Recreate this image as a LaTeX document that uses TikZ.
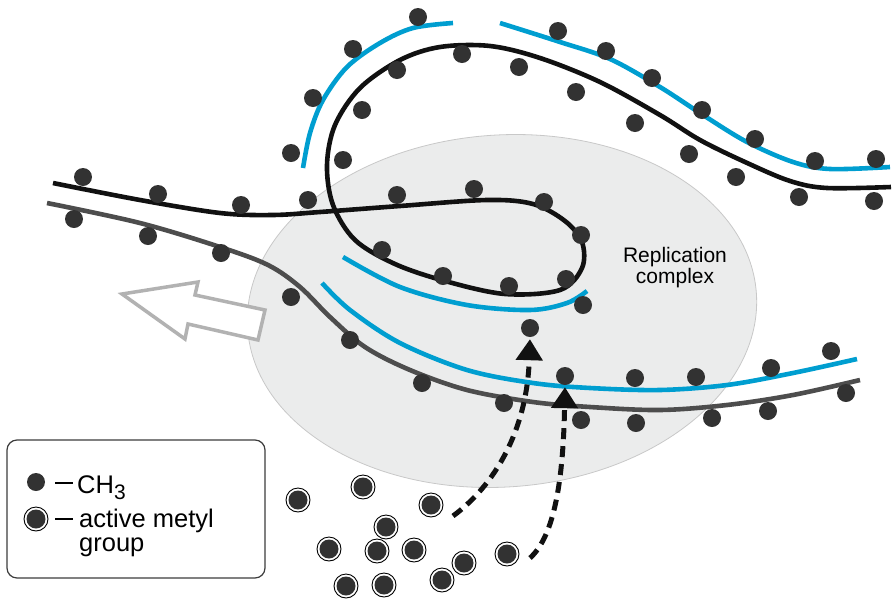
\documentclass[tikz,border=0pt]{standalone}
\usepackage{fontspec}
\setmainfont{Liberation Sans}
\usetikzlibrary{arrows.meta}
\definecolor{strandblue}{RGB}{0,158,208}
\definecolor{strandblack}{RGB}{17,17,17}
\definecolor{strandgray}{RGB}{77,77,77}
\definecolor{dotgray}{RGB}{50,50,50}
\definecolor{ellfill}{RGB}{235,236,236}
\definecolor{ellline}{RGB}{200,200,200}
\definecolor{arrowgray}{RGB}{178,178,178}
\definecolor{legendline}{RGB}{60,60,60}
\begin{document}
\begin{tikzpicture}[x=1pt,y=-1pt,
  strand/.style={line width=4.6pt, line cap=butt},
  dot/.style={circle, fill=dotgray, inner sep=0pt, minimum size=18pt},
  active/.style={circle, draw=black, line width=0.9pt, fill=white, inner sep=0pt,
    minimum size=24pt,
    path picture={\fill[dotgray] (path picture bounding box.center) circle (9.5pt);}},
  feed/.style={line width=5pt, dash pattern=on 11pt off 7pt, shorten >=2pt,
    -{Triangle[length=21pt,width=26pt]}, color=strandblack},
  label/.style={inner sep=0pt, text=black}]
\useasboundingbox (0,0) rectangle (895,598);

% replication complex
\filldraw[fill=ellfill, draw=ellline, line width=0.8pt, rotate around={4:(502,311)}]
  (502,311) ellipse [x radius=255, y radius=176];
\node[label, align=center, font=\fontsize{21}{21}\selectfont, anchor=base] (rc) at (675,283) {Replication\\complex};

% direction of movement
\draw[line width=3.5pt, draw=arrowgray, fill=white, line join=miter]
  (122,294) -- (198,282) -- (195,295) -- (265,310) -- (258,340) -- (188,324) -- (185,339) -- cycle;

% parental strand with loop
\draw[strand, strandblack] plot[smooth, tension=0.55] coordinates {
  (891,187) (827,188) (790,181) (745,162) (700,140) (660,115) (600,82) (540,58)
  (490,46) (440,47) (400,60) (360,88) (335,125) (327,165) (333,205) (355,240)
  (395,264) (445,281) (505,294) (560,290) (582,268) (582,242) (565,221) (533,204)
  (487,200) (400,206) (320,212) (273,215) (220,213) (140,200) (53,183)};

% second parental strand
\draw[strand, strandgray] plot[smooth, tension=0.55] coordinates {
  (47,203) (140,223) (220,247) (268,265) (300,287) (330,317) (365,347) (410,370)
  (467,390) (533,402) (590,407) (660,410) (727,405) (793,395) (860,380)};

% newly synthesised strands
\draw[strand, strandblue] plot[smooth, tension=0.55] coordinates {
  (500,23) (560,42) (610,59) (660,87) (703,115) (747,142) (793,162) (830,169) (890,167)};
\draw[strand, strandblue] plot[smooth, tension=0.55] coordinates {
  (453,23) (413,28) (380,43) (347,67) (323,100) (310,133) (303,168)};
\draw[strand, strandblue] plot[smooth, tension=0.55] coordinates {
  (343,257) (400,287) (467,305) (530,310) (567,303) (587,291)};
\draw[strand, strandblue] plot[smooth, tension=0.55] coordinates {
  (322,283) (350,310) (400,343) (467,370) (533,383) (590,388) (660,390) (727,385)
  (793,373) (857,359)};

% methyl groups on the strands
\foreach \p [count=\i] in {
  (418,17), (353,49), (397,70), (462,54), (519,67), (558,31), (606,51), (576,92),
  (652,78), (635,123), (702,110), (689,154), (755,139), (736,177), (815,161),
  (799,197), (876,159), (874,201), (313,98), (362,110), (291,153), (343,160),
  (83,177), (158,194), (241,205), (308,200), (74,219), (148,236), (221,253),
  (397,195), (474,189), (544,202), (581,235), (382,250), (443,276), (509,286),
  (566,279), (583,305), (291,297), (350,340), (422,383), (504,403), (581,420),
  (635,378), (696,377), (771,368), (831,351), (636,423), (712,418), (768,411),
  (846,393)}
  \node[dot] (m\i) at \p {};
\node[dot] (tA) at (530,328) {};
\node[dot] (tB) at (565,376) {};

% pool of active methyl groups
\foreach \p [count=\i] in {
  (298,500), (363,487), (431,505), (386,527), (329,549), (377,551), (414,550),
  (464,563), (507,554), (346,586), (384,585), (442,580)}
  \node[active] (a\i) at \p {};

% transfer of methyl groups
\coordinate (sA) at (453,516);
\coordinate (sB) at (530,558);
\draw[feed] (sA) .. controls (495,485) and (527,430) .. (tA.south);
\draw[feed] (sB) .. controls (552,538) and (563,490) .. (tB.south);

% legend
\draw[legendline, line width=1.2pt, rounded corners=10pt] (7,440) rectangle (265,578);
\node[dot] (ld) at (36,482) {};
\node[active] (la) at (36,519) {};
\coordinate (ldA) at (55,483);
\coordinate (ldB) at (73,483);
\coordinate (laA) at (55,519);
\coordinate (laB) at (73,519);
\draw[line width=2.5pt] (ldA) -- (ldB);
\draw[line width=2.5pt] (laA) -- (laB);
\node[label, anchor=base west, font=\fontsize{25.5}{24}\selectfont] (lt1) at (77,493)
  {CH\raisebox{-6pt}{\fontsize{21}{21}\selectfont 3}};
\node[label, anchor=base west, align=left, font=\fontsize{25.5}{24}\selectfont] (lt2) at (79,551)
  {active metyl\\group};
\end{tikzpicture}
\end{document}
